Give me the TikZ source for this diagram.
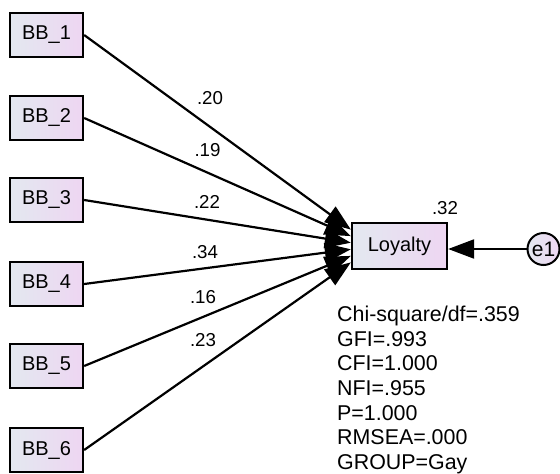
\documentclass[tikz,border=0pt]{standalone}
\usepackage{fontspec}
\setmainfont{Liberation Sans}
\usepackage{xcolor}
\usepackage{tikz}
\usetikzlibrary{arrows.meta}
\definecolor{boxleft}{HTML}{E3E8F0}
\definecolor{boxright}{HTML}{EED6F2}

\begin{document}
\begin{tikzpicture}[x=1pt,y=-1pt,
  obs/.style={draw,line width=2.3pt,left color=boxleft,right color=boxright,minimum width=73pt,minimum height=44pt,inner sep=0pt,font=\fontsize{20}{24}\selectfont},
  err/.style={draw,circle,line width=2pt,left color=boxleft,right color=boxright,minimum size=32pt,inner sep=0pt,font=\fontsize{21}{24}\selectfont},
  arr/.style={-{Triangle[length=26pt,width=19pt]},line width=2.2pt},
  lbl/.style={font=\fontsize{18.7}{22}\selectfont,inner sep=0pt}
]
\useasboundingbox (0,0) rectangle (560,474);
% observed variables
\node[obs] (bb1) at (46.5,35) {BB\_1};
\node[obs] (bb2) at (46.5,118) {BB\_2};
\node[obs] (bb3) at (46.5,200) {BB\_3};
\node[obs] (bb4) at (46.5,284) {BB\_4};
\node[obs] (bb5) at (46.5,366) {BB\_5};
\node[obs] (bb6) at (46.5,450) {BB\_6};
\node[obs,minimum width=95pt,minimum height=46pt] (loy) at (399.5,246) {Loyalty};
\node[err] (e1) at (543.5,249) {e1};
% paths
\draw[arr] (bb1.east) -- ([yshift=16.4pt]loy.west);
\draw[arr] (bb2.east) -- ([yshift=9.9pt]loy.west);
\draw[arr] (bb3.east) -- ([yshift=3.3pt]loy.west);
\draw[arr] (bb4.east) -- ([yshift=-3.3pt]loy.west);
\draw[arr] (bb5.east) -- ([yshift=-9.9pt]loy.west);
\draw[arr] (bb6.east) -- ([yshift=-16.4pt]loy.west);
\draw[arr] (e1) -- (e1 -| loy.east);
% estimates
\node[lbl] (w1) at (210,98) {.20};
\node[lbl] (w2) at (207.5,150) {.19};
\node[lbl] (w3) at (207,202) {.22};
\node[lbl] (w4) at (205,252) {.34};
\node[lbl] (w5) at (203,297) {.16};
\node[lbl] (w6) at (203,340) {.23};
\node[lbl] (r2) at (445,208) {.32};
% fit indices
\node[anchor=north west,align=left,inner sep=0pt,font=\fontsize{21.4}{24.6}\selectfont] (fit) at (337,306)
  {Chi-square/df=.359\\GFI=.993\\CFI=1.000\\NFI=.955\\P=1.000\\RMSEA=.000\\GROUP=Gay};
\end{tikzpicture}
\end{document}
